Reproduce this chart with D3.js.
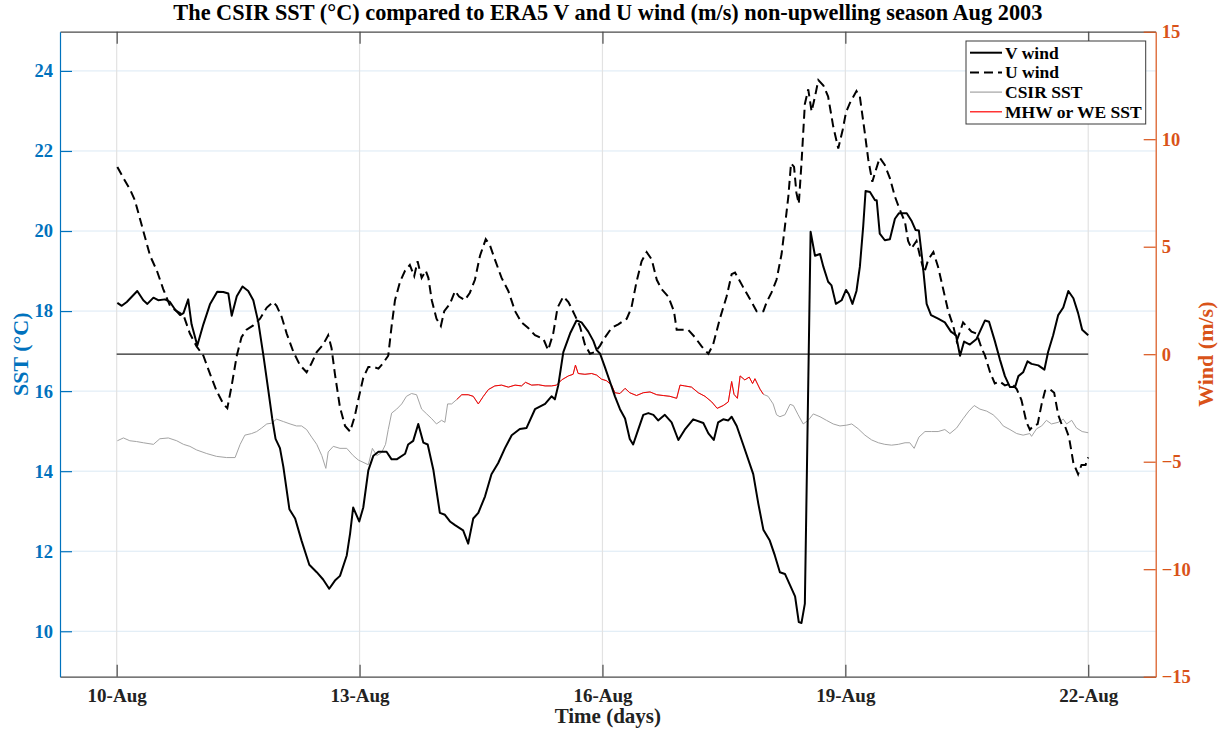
<!DOCTYPE html>
<html>
<head>
<meta charset="utf-8">
<script src="https://cdn.jsdelivr.net/npm/d3@7"></script>
<style>
  body { margin: 0; background: #ffffff; }
  svg { display: block; }
  text { font-family: "Liberation Serif", "Times New Roman", serif; font-weight: bold; }
</style>
</head>
<body>
<svg id="chart" width="1221" height="731"></svg>
<script>
// ---- Data (time in hours after 10 Aug 2003 00:00) ----
const vWindHours = [0.2,1.5,3.0,6.1,7.9,9.1,10.9,12.3,14.3,15.8,17.3,18.8,19.8,21.2,22.2,23.9,25.7,27.7,29.8,31.6,33.1,34.1,35.6,37.3,39.0,40.5,42.0,43.5,44.9,46.1,47.1,48.4,49.4,51.2,52.9,54.8,57.1,59.3,61.2,63.0,64.7,66.2,68.2,69.2,70.1,71.9,73.1,74.6,76.1,77.6,80.0,81.5,83.0,85.5,86.4,87.9,89.4,90.9,92.2,93.9,95.8,97.3,98.8,100.3,102.7,104.2,105.7,107.2,109.2,111.1,113.1,115.1,117.1,119.5,121.5,124.0,127.0,128.9,129.9,130.9,132.4,134.4,136.3,137.8,139.8,141.3,142.3,143.3,144.7,146.2,147.7,149.2,150.7,152.1,153.1,154.6,156.1,157.6,159.1,160.5,162.5,164.5,166.5,168.4,170.9,173.9,175.4,177.0,178.3,179.8,181.3,182.3,183.8,185.7,188.7,190.2,191.7,193.6,195.1,196.6,198.1,199.6,201.1,202.2,203.0,204.0,205.7,207.0,208.5,209.5,210.9,211.9,213.2,214.9,216.2,217.0,218.1,219.3,220.3,221.3,222.0,223.3,224.8,225.3,226.2,227.7,229.2,230.7,231.9,234.2,235.6,236.8,237.8,238.8,240.1,241.4,243.5,245.5,247.3,248.8,250.0,251.2,252.9,254.9,257.4,258.6,260.3,261.8,263.3,264.8,266.3,267.3,268.7,270.0,271.2,273.2,275.0,276.1,277.6,279.1,280.6,282.1,283.6,285.0,286.2,288.0];
const vWind = [2.39,2.25,2.43,2.94,2.51,2.34,2.63,2.51,2.55,2.43,2.08,1.82,1.91,2.55,1.39,0.40,1.39,2.34,2.91,2.89,2.82,1.79,2.69,3.15,2.94,2.51,1.48,-0.07,-1.62,-2.99,-3.94,-4.37,-5.23,-7.21,-7.64,-8.67,-9.79,-10.14,-10.48,-10.91,-10.53,-10.31,-9.36,-8.33,-7.13,-7.78,-7.13,-5.40,-4.72,-4.54,-4.54,-4.89,-4.89,-4.63,-4.20,-4.03,-3.25,-4.11,-4.20,-5.40,-7.38,-7.47,-7.78,-7.95,-8.19,-8.81,-7.64,-7.38,-6.61,-5.58,-5.06,-4.37,-3.77,-3.48,-3.43,-2.56,-2.31,-1.96,-2.10,-1.45,0.10,0.96,1.57,1.48,1.05,0.62,0.19,0.02,-0.59,-1.27,-1.96,-2.56,-2.99,-3.94,-4.20,-3.51,-2.82,-2.74,-2.82,-3.08,-2.82,-3.17,-3.99,-3.51,-3.03,-3.20,-3.68,-3.99,-3.17,-3.03,-3.08,-2.91,-3.34,-4.20,-5.58,-6.95,-8.16,-8.67,-9.36,-10.14,-10.22,-10.74,-11.26,-12.46,-12.50,-11.60,5.70,4.58,4.66,4.06,3.37,3.20,2.34,2.51,2.99,2.80,2.34,2.94,4.06,5.96,7.59,7.54,7.16,7.16,5.61,5.30,5.35,6.30,6.56,6.56,6.21,5.78,5.75,4.41,2.34,1.82,1.65,1.48,1.05,0.88,-0.07,0.59,0.45,0.71,1.57,1.51,0.62,-0.24,-1.02,-1.53,-1.53,-1.02,-0.84,-0.33,-0.45,-0.52,-0.72,0.10,0.88,1.82,2.17,2.94,2.60,1.91,1.14,0.88];

const uWindHours = [0.2,2.0,3.9,5.4,6.9,8.4,9.9,11.9,13.8,15.8,17.8,19.8,21.7,23.7,25.7,27.7,29.6,31.6,32.8,34.1,35.6,37.0,38.5,40.5,42.5,44.5,46.4,47.4,48.9,50.4,52.4,54.3,56.3,57.8,59.3,61.2,62.7,63.7,64.7,66.2,67.7,69.2,70.6,71.6,73.1,74.6,76.1,77.6,79.0,80.5,81.5,82.5,84.0,85.5,86.9,88.2,89.2,90.4,91.6,92.4,93.4,94.8,96.1,97.1,98.8,100.3,101.5,103.2,104.7,106.2,107.7,109.4,110.6,112.1,114.1,116.1,118.1,120.0,122.0,124.0,126.5,127.9,129.4,130.7,132.4,133.9,135.8,137.3,138.8,140.3,141.8,143.3,144.6,146.7,148.7,151.2,152.6,154.1,155.6,157.1,158.6,160.1,161.5,163.5,165.2,166.0,167.5,169.4,171.4,173.4,175.4,176.8,178.8,180.8,182.3,183.3,185.7,188.2,189.7,191.7,192.7,194.1,195.6,197.1,198.1,199.1,199.9,200.8,201.5,202.2,203.0,204.0,205.0,206.0,207.0,208.0,209.5,210.9,212.4,213.9,215.2,216.2,217.4,219.3,220.3,221.8,222.8,224.0,225.0,226.2,227.7,229.2,230.7,231.9,233.7,234.6,235.6,237.1,238.1,239.4,240.6,242.1,243.5,245.0,246.5,248.0,249.0,250.0,250.9,252.4,253.4,254.9,256.4,257.4,258.9,260.3,261.8,263.3,265.3,266.8,268.2,269.7,270.7,271.7,273.0,274.2,275.2,276.6,277.9,279.1,280.1,281.1,282.3,283.6,285.0,286.0,287.2,288.0];
const uWind = [8.71,8.19,7.68,7.16,6.30,5.44,4.58,3.89,3.03,2.25,2.00,1.82,0.96,0.36,-0.07,-0.93,-1.70,-2.31,-2.51,-1.45,-0.07,0.79,1.14,1.34,1.65,2.17,2.43,2.25,1.74,0.96,0.10,-0.50,-0.84,-0.41,0.10,0.45,0.88,0.28,-0.93,-2.48,-3.34,-3.60,-2.87,-2.13,-1.10,-0.59,-0.59,-0.67,-0.41,-0.07,1.31,2.51,3.37,3.89,4.15,3.63,4.32,3.55,3.89,3.55,2.51,1.65,1.31,2.00,2.34,2.94,2.68,2.51,2.86,3.46,4.58,5.35,5.09,4.41,3.55,2.94,2.00,1.48,1.22,0.88,0.71,0.19,0.96,2.17,2.68,2.43,1.82,1.31,0.45,0.02,0.10,0.40,0.75,1.22,1.39,1.65,2.17,3.37,4.32,4.75,4.41,3.46,3.03,2.68,2.00,1.14,1.14,1.14,0.79,0.36,0.02,0.45,1.65,2.68,3.72,3.80,3.12,2.43,2.00,2.00,2.43,2.86,3.46,4.66,5.96,7.33,8.88,8.71,7.50,6.99,8.88,11.64,12.32,11.29,11.98,12.75,12.50,11.98,10.60,9.57,10.43,11.25,11.70,12.24,11.98,10.26,9.05,8.02,8.54,9.14,8.80,8.19,7.33,6.82,6.13,5.27,4.92,5.27,4.58,3.80,4.41,4.75,4.06,3.03,2.00,1.31,0.62,1.05,1.48,1.22,1.05,0.96,0.28,-0.07,-0.84,-1.36,-1.27,-1.45,-1.36,-1.62,-2.13,-3.17,-3.51,-3.34,-3.25,-2.31,-1.70,-1.62,-1.79,-2.82,-3.25,-3.34,-3.86,-5.06,-5.58,-5.15,-5.15,-4.80];

const sstHours = [0.2,2.0,3.9,5.9,7.9,10.9,12.8,15.3,17.8,19.8,21.7,23.7,26.7,29.6,32.6,35.1,36.6,38.0,40.0,41.5,43.0,44.5,45.9,47.4,49.4,51.4,53.3,54.8,56.3,57.8,59.3,60.8,62.0,62.7,64.2,66.2,68.2,70.1,71.6,74.6,75.8,77.1,78.5,79.7,80.5,81.5,83.0,84.5,85.9,87.4,88.9,90.4,91.9,93.4,94.8,96.3,97.3,98.1,99.3,100.8,102.3,104.2,105.7,107.2,108.7,110.2,112.1,114.1,116.1,118.1,120.0,121.2,123.0,125.0,127.0,128.9,130.4,131.9,133.9,135.3,136.0,136.8,138.8,140.8,142.3,143.7,145.2,146.7,147.7,149.2,150.7,152.1,154.1,156.1,158.1,160.1,162.0,164.0,166.0,167.0,168.4,170.4,172.4,174.4,176.4,178.0,179.8,181.3,182.3,183.0,184.0,184.8,186.2,187.5,188.5,189.2,190.7,191.7,193.1,194.6,195.6,196.6,198.1,199.6,200.6,202.0,203.5,205.0,206.5,208.5,210.4,212.4,214.4,216.4,217.9,219.8,221.8,223.8,225.8,227.7,229.7,231.7,233.7,235.1,236.4,237.8,239.6,241.6,243.5,245.5,247.0,249.0,250.9,252.6,254.2,255.9,257.9,259.8,261.5,262.8,264.8,266.8,268.7,270.7,271.2,272.7,274.2,275.6,277.1,279.1,280.6,281.6,283.1,284.5,286.2,288.0];
const sstValues = [14.76,14.83,14.76,14.74,14.71,14.67,14.81,14.83,14.76,14.67,14.62,14.53,14.44,14.37,14.34,14.34,14.67,14.90,14.94,14.99,15.08,15.18,15.20,15.30,15.24,15.18,15.13,15.13,15.04,14.85,14.67,14.39,14.07,14.48,14.62,14.57,14.57,14.39,14.28,14.16,14.57,14.39,14.46,14.67,15.04,15.45,15.55,15.68,15.87,15.94,15.91,15.55,15.43,15.31,15.18,15.27,15.22,15.68,15.68,15.79,15.91,15.91,15.87,15.68,15.87,16.04,16.13,16.15,16.10,16.15,16.13,16.22,16.15,16.16,16.13,16.13,16.15,16.28,16.38,16.42,16.65,16.44,16.42,16.44,16.40,16.30,16.26,16.15,15.96,15.94,16.07,15.96,15.89,15.96,15.98,15.91,15.89,15.87,15.82,16.15,16.13,16.10,15.96,15.87,15.73,15.57,15.64,15.73,16.24,15.92,15.82,16.38,16.28,16.35,16.19,16.31,16.05,15.92,15.87,15.68,15.41,15.36,15.41,15.67,15.64,15.41,15.18,15.27,15.43,15.36,15.27,15.18,15.13,15.15,15.18,15.06,14.90,14.78,14.71,14.67,14.65,14.67,14.71,14.71,14.57,14.85,14.99,14.99,14.99,15.04,14.94,15.08,15.31,15.50,15.64,15.55,15.50,15.41,15.27,15.13,15.04,14.94,14.90,14.94,14.87,15.06,15.13,15.27,15.18,15.22,15.30,15.18,15.27,15.08,14.99,14.96];

// Marine heatwave / warm event window (hours)
const mhwStartHour = 100.8;
const mhwEndHour = 191.7;

// Reference line for zero wind
const zeroLineHours = [0, 288];
const zeroLineValues = [0, 0];

// Axis settings
const xLimitHours = [-16.8, 308.0];
const xTickHours = [0, 72, 144, 216, 288];
const sstLimits = [8.865, 24.98];
const sstTicks = [10, 12, 14, 16, 18, 20, 22, 24];
const windLimits = [-15, 15];
const windTicks = [-15, -10, -5, 0, 5, 10, 15];

const legendLabels = ["V wind", "U wind", "CSIR SST", "MHW or WE SST"];

// ---- Layout ----
const svg = d3.select("#chart");
const plot = { left: 60, right: 1155.7, top: 31.7, bottom: 676.7 };
const colBlue = "#0072BD", colOrange = "#D95319";
const base = new Date(2003, 7, 10);
const toDate = h => new Date(base.getTime() + h * 36e5);

const x = d3.scaleTime().domain(xLimitHours.map(toDate)).range([plot.left, plot.right]);
const ySst = d3.scaleLinear().domain(sstLimits).range([plot.bottom, plot.top]);
const yWind = d3.scaleLinear().domain(windLimits).range([plot.bottom, plot.top]);
const xTickDates = xTickHours.map(toDate);

svg.append("rect").attr("width", 1221).attr("height", 731).attr("fill", "#fff");

// Grid
svg.append("g").selectAll("line").data(sstTicks).join("line")
  .attr("x1", plot.left).attr("x2", plot.right)
  .attr("y1", d => ySst(d)).attr("y2", d => ySst(d))
  .attr("stroke", "#dbe9f4").attr("stroke-width", 1);
svg.append("g").selectAll("line").data(xTickDates).join("line")
  .attr("x1", d => x(d)).attr("x2", d => x(d))
  .attr("y1", plot.top).attr("y2", plot.bottom)
  .attr("stroke", "#e2e2e2").attr("stroke-width", 1.2);

const zip = (a, b) => a.map((h, i) => [h, b[i]]);
const sstPts = zip(sstHours, sstValues);
const mhwPts = sstPts.filter(d => d[0] >= mhwStartHour && d[0] <= mhwEndHour);

const lineSst = d3.line().x(d => x(toDate(d[0]))).y(d => ySst(d[1]));
const lineWind = d3.line().x(d => x(toDate(d[0]))).y(d => yWind(d[1]));

const marks = svg.append("g").attr("fill", "none");
marks.append("path").datum(sstPts).attr("d", lineSst)
  .attr("stroke", "#a3a3a3").attr("stroke-width", 1);
marks.append("path").datum(mhwPts).attr("d", lineSst)
  .attr("stroke", "#ff0000").attr("stroke-width", 1);
marks.append("path").datum(zip(zeroLineHours, zeroLineValues)).attr("d", lineWind)
  .attr("stroke", "#262626").attr("stroke-width", 1.2);
marks.append("path").datum(zip(vWindHours, vWind)).attr("d", lineWind)
  .attr("stroke", "#000").attr("stroke-width", 2).attr("stroke-linejoin", "round");
marks.append("path").datum(zip(uWindHours, uWind)).attr("d", lineWind)
  .attr("stroke", "#000").attr("stroke-width", 2).attr("stroke-dasharray", "9,5");

// Axes
function styleAxis(g, color, size) {
  g.attr("font-family", "Liberation Serif, Times New Roman, serif")
   .attr("font-size", size).attr("font-weight", "bold");
  g.select(".domain").attr("stroke", color).attr("stroke-width", 1.2);
  g.selectAll(".tick line").attr("stroke", color).attr("stroke-width", 1.2);
  g.selectAll(".tick text").attr("fill", color);
}

const axisGray = "#4a4a4a";
svg.append("g").attr("transform", `translate(0,${plot.top})`)
  .call(d3.axisTop(x).tickValues(xTickDates).tickFormat("").tickSize(-12).tickSizeOuter(0))
  .call(g => styleAxis(g, axisGray, 18));
svg.append("g").attr("transform", `translate(0,${plot.bottom})`)
  .call(d3.axisBottom(x).tickValues(xTickDates).tickFormat(d3.timeFormat("%d-%b"))
    .tickSize(-12).tickSizeOuter(0).tickPadding(12))
  .call(g => styleAxis(g, axisGray, 19))
  .call(g => g.selectAll(".tick text").attr("fill", "#222"));
svg.append("g").attr("transform", `translate(${plot.left},0)`)
  .call(d3.axisLeft(ySst).tickValues(sstTicks).tickSize(-12).tickSizeOuter(0).tickPadding(7))
  .call(g => styleAxis(g, colBlue, 18.5));
svg.append("g").attr("transform", `translate(${plot.right},0)`)
  .call(d3.axisRight(yWind).tickValues(windTicks).tickSize(-12).tickSizeOuter(0).tickPadding(6))
  .call(g => styleAxis(g, colOrange, 18.5));

// Titles and labels
const midX = (plot.left + plot.right) / 2;
svg.append("text").attr("x", midX).attr("y", 20).attr("text-anchor", "middle")
  .attr("font-size", 22.3).attr("fill", "#000")
  .text("The CSIR SST (°C) compared to ERA5 V and U wind (m/s) non-upwelling season Aug 2003");
svg.append("text").attr("x", midX).attr("y", 723).attr("text-anchor", "middle")
  .attr("font-size", 21).attr("fill", "#222").text("Time (days)");
svg.append("text").attr("transform", `translate(28,${(plot.top + plot.bottom) / 2}) rotate(-90)`)
  .attr("text-anchor", "middle").attr("font-size", 22).attr("fill", colBlue).text("SST (°C)");
svg.append("text").attr("transform", `translate(1213,${(plot.top + plot.bottom) / 2}) rotate(-90)`)
  .attr("text-anchor", "middle").attr("font-size", 22).attr("fill", colOrange).text("Wind (m/s)");

// Legend
const legend = svg.append("g").attr("transform", "translate(966,41)");
legend.append("rect").attr("width", 179.7).attr("height", 83)
  .attr("fill", "#fff").attr("stroke", "#3a3a3a").attr("stroke-width", 1);
const legendStyles = [
  { stroke: "#000", width: 2, dash: null },
  { stroke: "#000", width: 2, dash: "9,5" },
  { stroke: "#a3a3a3", width: 1.2, dash: null },
  { stroke: "#ff0000", width: 1.2, dash: null }
];
legendLabels.forEach((label, i) => {
  const yy = 11.7 + i * 19.7;
  const s = legendStyles[i];
  legend.append("line").attr("x1", 4).attr("x2", 36).attr("y1", yy).attr("y2", yy)
    .attr("stroke", s.stroke).attr("stroke-width", s.width)
    .attr("stroke-dasharray", s.dash);
  legend.append("text").attr("x", 39).attr("y", yy + 6)
    .attr("font-size", 17.5).attr("fill", "#000").text(label);
});
</script>
</body>
</html>
